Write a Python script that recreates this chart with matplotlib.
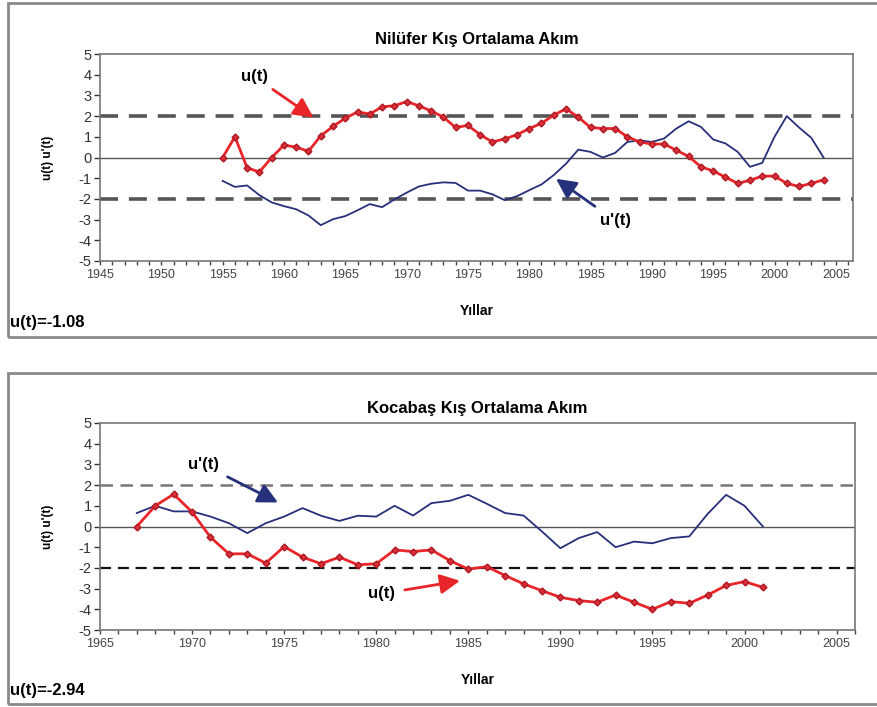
import matplotlib.pyplot as plt
from matplotlib.patches import Rectangle

plt.rcParams['font.family'] = ['Liberation Sans', 'DejaVu Sans']
plt.rcParams['axes.unicode_minus'] = False

# Nilüfer (top panel)
nil_years = list(range(1955, 2005))
nil_u = [0.0, 1.0, -0.5, -0.7, 0.0, 0.6, 0.5, 0.3, 1.05, 1.5,
         1.9, 2.2, 2.1, 2.45, 2.5, 2.7, 2.5, 2.25, 1.95, 1.45,
         1.55, 1.1, 0.75, 0.9, 1.1, 1.4, 1.65, 2.05, 2.35, 1.95,
         1.45, 1.4, 1.4, 1.0, 0.75, 0.65, 0.65, 0.35, 0.05, -0.45,
         -0.65, -0.95, -1.25, -1.1, -0.9, -0.9, -1.25, -1.4, -1.25, -1.08]
nil_up = [-1.13, -1.42, -1.35, -1.82, -2.17, -2.35, -2.5, -2.8, -3.27, -2.98,
          -2.83, -2.55, -2.25, -2.4, -2.03, -1.7, -1.4, -1.27, -1.2, -1.23,
          -1.6, -1.6, -1.78, -2.06, -1.87, -1.58, -1.3, -0.85, -0.3, 0.38,
          0.27, 0.0, 0.22, 0.75, 0.83, 0.75, 0.92, 1.4, 1.75, 1.48,
          0.87, 0.68, 0.27, -0.45, -0.26, 1.0, 2.0, 1.45, 0.95, 0.0]

# Kocabaş (bottom panel)
koc_years = list(range(1967, 2002))
koc_u = [0.0, 1.0, 1.56, 0.7, -0.52, -1.32, -1.32, -1.77, -0.97, -1.48,
         -1.8, -1.48, -1.85, -1.8, -1.13, -1.21, -1.13, -1.65, -2.06, -1.94,
         -2.37, -2.77, -3.1, -3.42, -3.58, -3.66, -3.31, -3.66, -4.0, -3.63,
         -3.71, -3.31, -2.85, -2.66, -2.94]
koc_up = [0.65, 1.0, 0.73, 0.73, 0.48, 0.16, -0.32, 0.16, 0.48, 0.89,
          0.52, 0.27, 0.52, 0.48, 1.0, 0.53, 1.13, 1.24, 1.53, 1.1,
          0.65, 0.53, -0.24, -1.05, -0.56, -0.27, -1.0, -0.73, -0.81, -0.56,
          -0.48, 0.61, 1.53, 1.0, 0.0]

RED = '#e8262a'
NAVY = '#27307a'
ARROW = '-|>,head_length=1.0,head_width=0.5'

W, H = 877, 707
fig = plt.figure(figsize=(W / 100, H / 100), dpi=100)


def px_box(x0, y0, x1, y1):
    return [x0 / W, 1 - y1 / H, (x1 - x0) / W, (y1 - y0) / H]


# panel frames
for y0, y1 in [(3, 337), (373, 704)]:
    fig.patches.append(Rectangle((8 / W, 1 - y1 / H), (W + 5 - 8) / W, (y1 - y0) / H,
                                 transform=fig.transFigure, fill=False,
                                 edgecolor='#8a8a8a', lw=2.0))


def panel(ax, years, u, up, xlim, title, xticks):
    ax.axhline(0, color='#555555', lw=1.0, zorder=1)
    ax.plot(years, up, color=NAVY, lw=1.3, zorder=2)
    ax.plot(years, u, color=RED, lw=2.0, marker='D', ms=3.5,
            mfc='#d9303a', mec='#b01822', zorder=3)
    ax.set_xlim(*xlim)
    ax.set_ylim(-5, 5)
    ax.set_yticks(range(-5, 6))
    ax.set_xticks(xticks)
    ax.set_xticks(range(xticks[0], int(xlim[1]) + 1), minor=True)
    ax.tick_params(axis='y', labelsize=10.5, length=4, width=1, pad=2, colors='#333333')
    ax.tick_params(axis='x', which='both', direction='out', length=3, width=1,
                   labelsize=9, pad=3, colors='#444444')
    for s in ax.spines.values():
        s.set_color('#777777')
        s.set_linewidth(1.2)
    ax.set_title(title, fontsize=12, fontweight='bold', pad=7)
    ax.set_ylabel("u(t) u'(t)", fontsize=8.5, fontweight='bold', labelpad=18)
    ax.set_xlabel('Yıllar', fontsize=10, fontweight='bold', labelpad=16)


ax1 = fig.add_axes(px_box(100, 54, 853, 261))
panel(ax1, nil_years, nil_u, nil_up, (1945, 2006.4), 'Nilüfer Kış Ortalama Akım',
      list(range(1945, 2006, 5)))
ax1.axhline(2, color='#555555', lw=2.6, ls=(0, (5, 3)), zorder=1)
ax1.axhline(-2, color='#555555', lw=2.6, ls=(0, (5, 3)), zorder=1)
ax1.annotate('u(t)', xy=(1962.6, 1.85), xytext=(1957.6, 3.9), fontsize=12,
             fontweight='bold', ha='center', va='center',
             arrowprops=dict(arrowstyle=ARROW, color=RED, lw=2, shrinkA=3))
ax1.annotate("u'(t)", xy=(1982.0, -0.95), xytext=(1987.0, -3.05), fontsize=12,
             fontweight='bold', ha='center', va='center',
             arrowprops=dict(arrowstyle=ARROW, color=NAVY, lw=2, shrinkA=5))
fig.text(10 / W, 1 - 322 / H, 'u(t)=-1.08', fontsize=12, fontweight='bold',
         va='center', ha='left')

ax2 = fig.add_axes(px_box(100, 423, 855, 630))
panel(ax2, koc_years, koc_u, koc_up, (1965, 2006), 'Kocabaş Kış Ortalama Akım',
      list(range(1965, 2006, 5)))
ax2.axhline(2, color='#777777', lw=1.8, ls=(0, (5, 3)), zorder=1)
ax2.axhline(-2, color='#111111', lw=1.6, ls=(0, (5, 3)), zorder=1)
ax2.annotate("u'(t)", xy=(1974.8, 1.1), xytext=(1970.6, 3.0), fontsize=12,
             fontweight='bold', ha='center', va='center',
             arrowprops=dict(arrowstyle=ARROW, color=NAVY, lw=2, shrinkA=5))
ax2.annotate('u(t)', xy=(1984.7, -2.6), xytext=(1980.3, -3.25), fontsize=12,
             fontweight='bold', ha='center', va='center',
             arrowprops=dict(arrowstyle=ARROW, color=RED, lw=2, shrinkA=5))
fig.text(10 / W, 1 - 690 / H, 'u(t)=-2.94', fontsize=12, fontweight='bold',
         va='center', ha='left')

fig.savefig('out.png', dpi=100)
